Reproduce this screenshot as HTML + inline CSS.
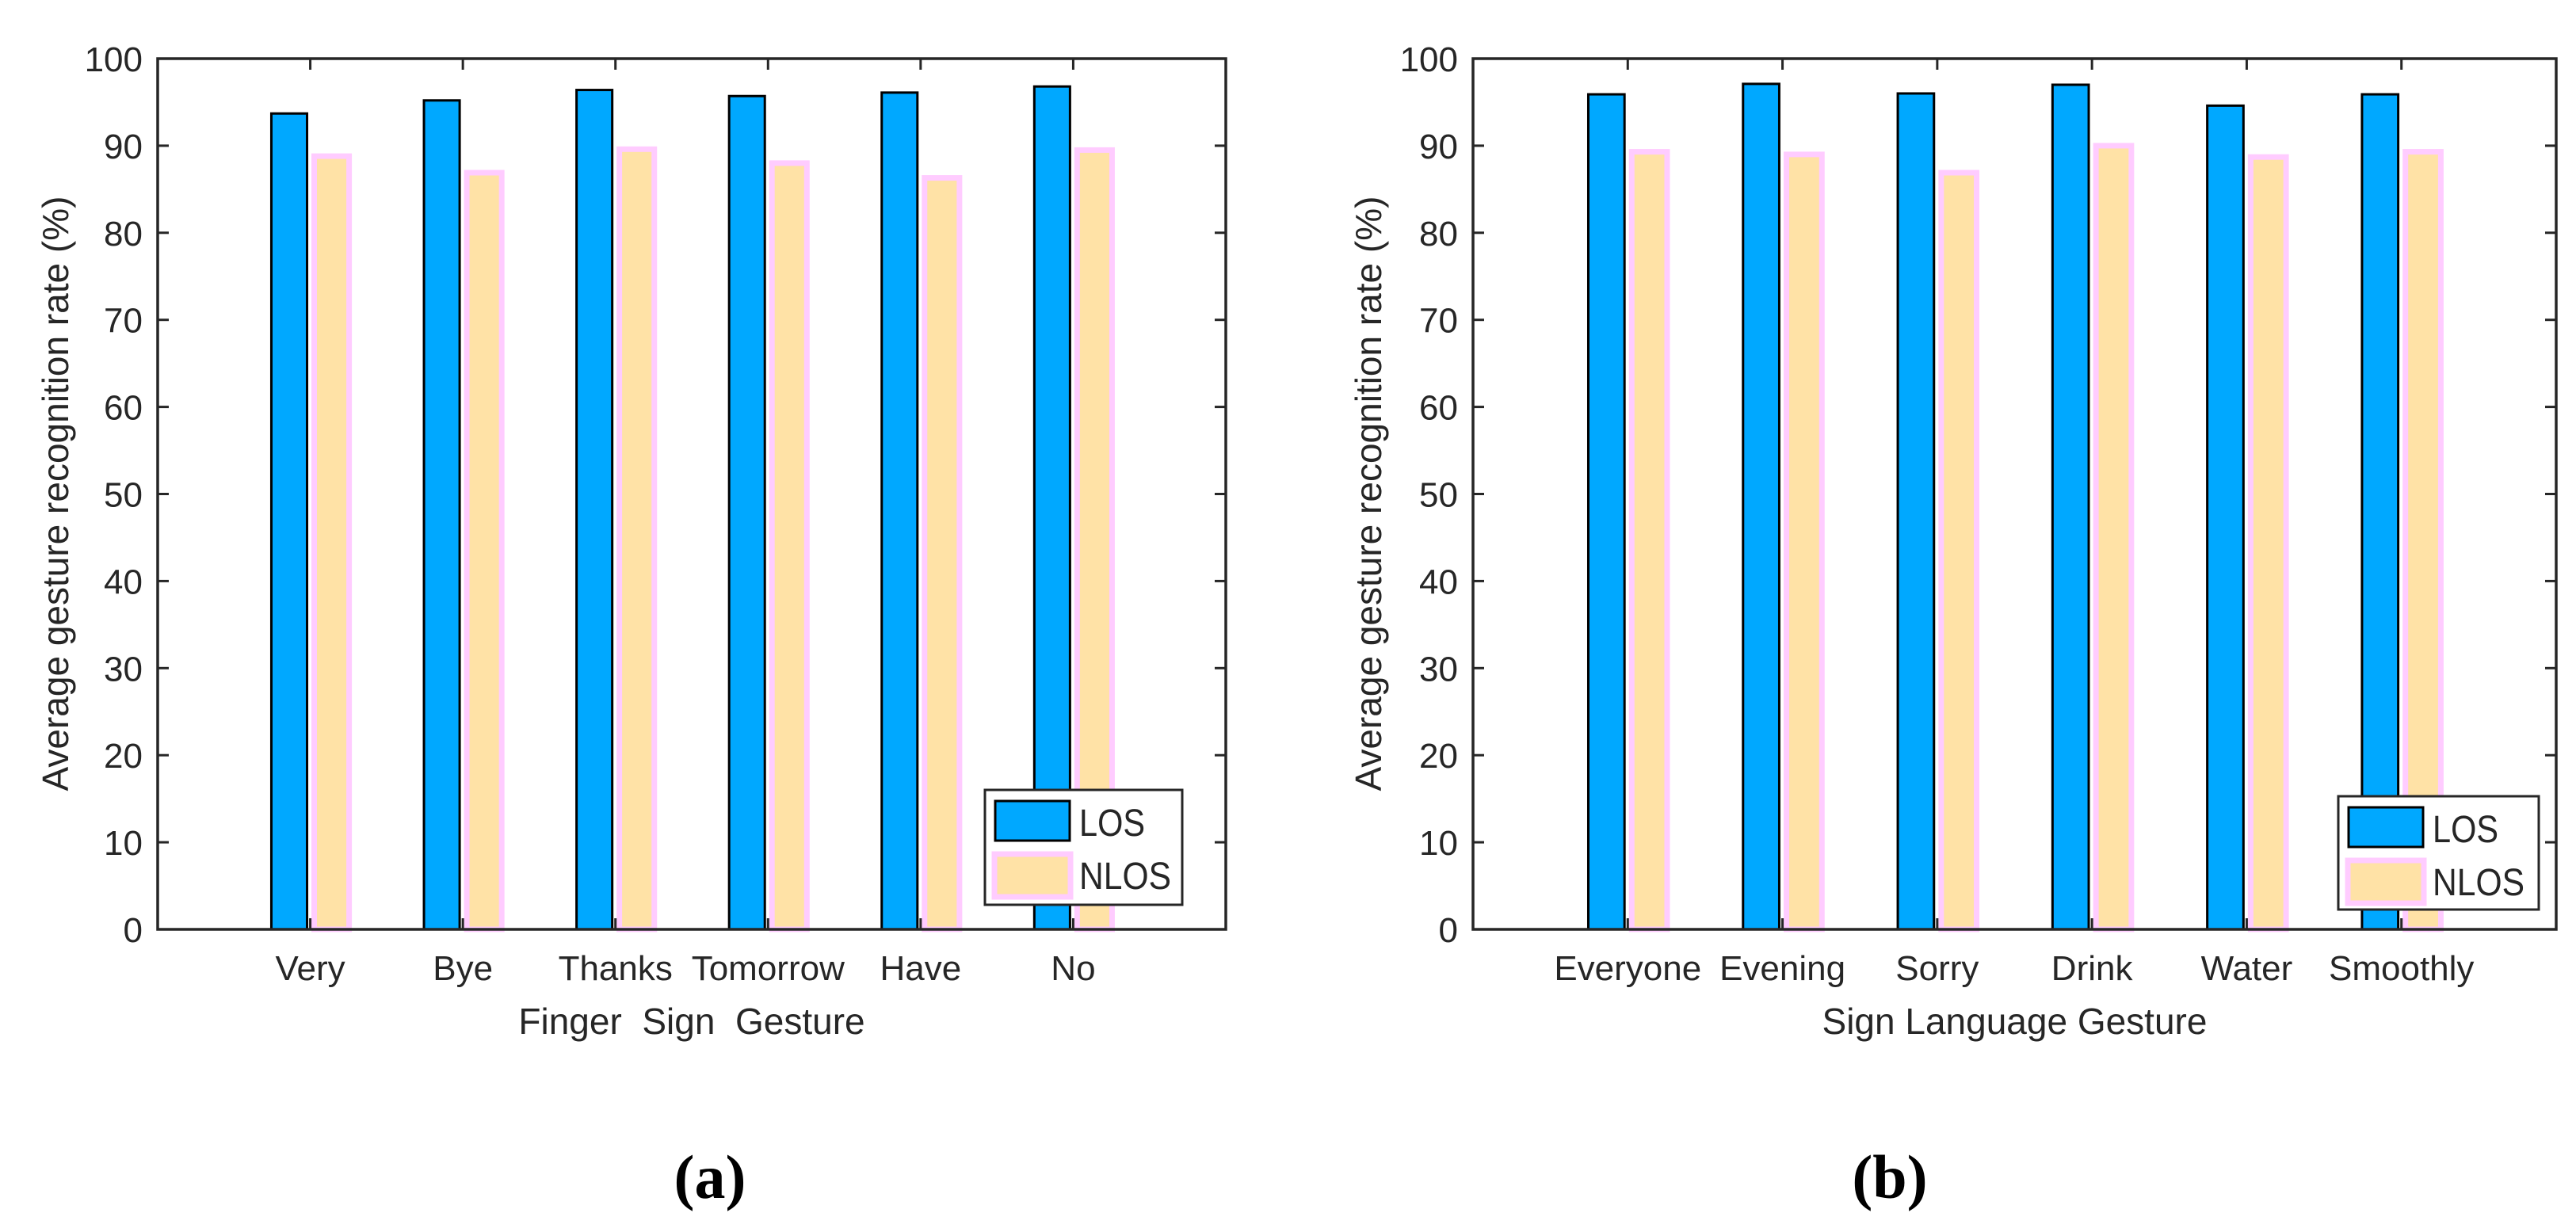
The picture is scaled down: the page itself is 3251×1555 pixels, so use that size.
<!DOCTYPE html>
<html><head><meta charset="utf-8"><style>
html,body{margin:0;padding:0;background:#fff;}
svg{display:block;}
text{font-family:"Liberation Sans","DejaVu Sans",sans-serif;fill:#262626;}
</style></head><body>
<svg id="fig" width="3251" height="1555" viewBox="0 0 3251 1555" xmlns="http://www.w3.org/2000/svg"></svg>
<script>
const catsA = ["Very","Bye","Thanks","Tomorrow","Have","No"];
const losA = [93.7,95.2,96.4,95.7,96.1,96.8];
const nlosA = [88.8,86.9,89.6,88.0,86.3,89.5];
const catsB = ["Everyone","Evening","Sorry","Drink","Water","Smoothly"];
const losB = [95.9,97.1,96.0,97.0,94.6,95.9];
const nlosB = [89.3,89.0,86.9,90.0,88.7,89.3];
const yTicks = [0,10,20,30,40,50,60,70,80,90,100];
const seriesNames = ["LOS","NLOS"];

const NS="http://www.w3.org/2000/svg";
const svg=document.getElementById('fig');
function mk(tag,attrs,parent){const e=document.createElementNS(NS,tag);for(const k in attrs)e.setAttribute(k,attrs[k]);(parent||svg).appendChild(e);return e;}

function chart(cfg){
  const g=mk('g',{});
  
  
  const L=cfg.left,R=cfg.right,T=74,B=1173;
  const xs=v=>L+(v/7)*(R-L);
  const ys=v=>B-(v/100)*(B-T);
  const unit=(R-L)/7;
  cfg.cats.forEach((c,i)=>{
    const cx=xs(i+1);
    const w1=0.234*unit, w2=0.229*unit;
    const b1=mk('rect',{x:cx-0.138*unit-w1/2,y:ys(cfg.los[i]),width:w1,height:ys(0)-ys(cfg.los[i]),fill:'#00a8ff',stroke:'#000','stroke-width':3},g);
    
    
    const b2=mk('rect',{x:cx+0.14*unit-w2/2,y:ys(cfg.nlos[i]),width:w2,height:ys(0)-ys(cfg.nlos[i]),fill:'#ffe2a6',stroke:'#ffccff','stroke-width':7},g);
    
    
    const t=mk('text',{x:cx,y:1237,'font-size':44,'text-anchor':'middle'},g);
    t.textContent=c;
    
    
    mk('line',{x1:cx,y1:B,x2:cx,y2:B-14,stroke:'#262626','stroke-width':3},g);
    mk('line',{x1:cx,y1:T,x2:cx,y2:T+14,stroke:'#262626','stroke-width':3},g);
  });
  const ax=mk('rect',{x:L,y:T,width:R-L,height:B-T,fill:'none',stroke:'#262626','stroke-width':3.5},g);
  
  
  yTicks.forEach(v=>{
    const y=ys(v);
    mk('line',{x1:L,y1:y,x2:L+14,y2:y,stroke:'#262626','stroke-width':3},g);
    mk('line',{x1:R,y1:y,x2:R-14,y2:y,stroke:'#262626','stroke-width':3},g);
    const t=mk('text',{x:L-19,y:y+16,'font-size':44,'text-anchor':'end'},g);
    t.textContent=v;
    
    
  });
  const xl=mk('text',{x:(L+R)/2,y:1305,'font-size':46,'text-anchor':'middle','xml:space':'preserve',style:'white-space:pre'},g);
  xl.textContent=cfg.xlabel;
  
  
  const yl=mk('text',{x:0,y:0,'font-size':46,'text-anchor':'middle',transform:`translate(${cfg.ylx},623) rotate(-90)`},g);
  yl.textContent='Average gesture recognition rate (%)';
  
  
  const lg=mk('g',{},g);
  
  
  const lx=cfg.leg[0],ly=cfg.leg[1],lw=cfg.leg[2],lh=cfg.leg[3];
  mk('rect',{x:lx,y:ly,width:lw,height:lh,fill:'#fff',stroke:'#262626','stroke-width':3},lg);
  mk('rect',{x:lx+13,y:ly+14,width:94,height:50,fill:'#00a8ff',stroke:'#000','stroke-width':3},lg);
  mk('rect',{x:lx+12,y:ly+81,width:96,height:54,fill:'#ffe2a6',stroke:'#ffccff','stroke-width':7},lg);
  const t1=mk('text',{x:lx+119,y:ly+58,'font-size':48,textLength:83,lengthAdjust:'spacingAndGlyphs'},lg);t1.textContent=seriesNames[0];
  
  
  const t2=mk('text',{x:lx+119,y:ly+125,'font-size':48,textLength:116,lengthAdjust:'spacingAndGlyphs'},lg);t2.textContent=seriesNames[1];
  
  
  const p=mk('text',{x:cfg.px,y:1512,'font-size':78,'font-weight':'bold','text-anchor':'middle',style:'font-family:"Liberation Serif",serif;fill:#000'},g);
  p.textContent=cfg.panel;
  
  
}
chart({name:'chart-a',left:199,right:1547,cats:catsA,los:losA,nlos:nlosA,xlabel:'Finger  Sign  Gesture',ylx:86,leg:[1243,997,249,145],panel:'(a)',px:896});
chart({name:'chart-b',left:1859,right:3226,cats:catsB,los:losB,nlos:nlosB,xlabel:'Sign Language Gesture',ylx:1743,leg:[2951,1005,253,143],panel:'(b)',px:2385});
</script>
</body></html>
